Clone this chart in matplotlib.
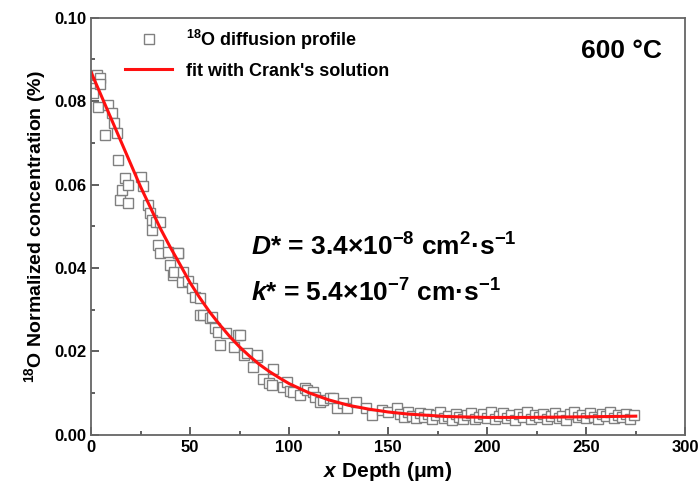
import matplotlib.pyplot as plt
from matplotlib.ticker import MultipleLocator

depth = [1, 1, 3, 3.5, 4.5, 4.5, 7, 8.6, 10.6, 11.6, 13, 13.6, 14.6, 15.6,
         17, 18.7, 18.7, 25, 26, 29, 30, 31, 31, 33, 34, 35, 35, 39, 40,
         41.5, 42, 44, 44, 46, 46.5, 49, 51, 52.5, 55, 55, 56.6, 60, 61,
         62.6, 64, 65, 68, 72, 74, 75, 77, 79, 82, 84, 84, 87, 90, 91.4,
         92, 97, 99, 100.5, 102, 105.5, 108, 109, 112, 113, 115.7, 117,
         120.7, 122, 124, 127, 129, 134, 139, 142, 147, 150, 154.5, 156,
         158, 160, 162, 164, 166, 168, 170, 172, 174, 176, 178, 180, 182,
         184, 186, 188, 190, 192, 194, 196, 198, 200, 202, 204, 206, 208,
         210, 212, 214, 216, 218, 220, 222, 224, 226, 228, 230, 232, 234,
         236, 238, 240, 242, 244, 246, 248, 250, 252, 254, 256, 258, 260,
         262, 264, 266, 268, 270, 272, 274]
conc = [0.0820, 0.0856, 0.0863, 0.0787, 0.0856, 0.0842, 0.0720, 0.0791,
        0.0772, 0.0748, 0.0724, 0.0660, 0.0564, 0.0588, 0.0616, 0.0600,
        0.0556, 0.0619, 0.0597, 0.0552, 0.0532, 0.0516, 0.0490, 0.0511,
        0.0456, 0.0511, 0.0436, 0.0439, 0.0408, 0.0384, 0.0390, 0.0436,
        0.0436, 0.0367, 0.0390, 0.0370, 0.0352, 0.0330, 0.0329, 0.0288,
        0.0288, 0.0280, 0.0283, 0.0257, 0.0247, 0.0216, 0.0245, 0.0211,
        0.0240, 0.0240, 0.0192, 0.0197, 0.0163, 0.0187, 0.0192, 0.0135,
        0.0125, 0.0120, 0.0158, 0.0115, 0.0127, 0.0106, 0.0103, 0.0096,
        0.0113, 0.0108, 0.0103, 0.0091, 0.0079, 0.0084, 0.0089, 0.0089,
        0.0065, 0.0077, 0.0065, 0.0079, 0.0065, 0.0048, 0.0060, 0.0055,
        0.0065, 0.0050, 0.0042, 0.0056, 0.0046, 0.0040, 0.0052, 0.0044,
        0.0050, 0.0038, 0.0047, 0.0055, 0.0041, 0.0045, 0.0036, 0.0050,
        0.0043, 0.0039, 0.0048, 0.0053, 0.0037, 0.0044, 0.0050, 0.0041,
        0.0056, 0.0038, 0.0046, 0.0052, 0.0040, 0.0048, 0.0035, 0.0050,
        0.0044, 0.0055, 0.0039, 0.0047, 0.0042, 0.0051, 0.0038, 0.0046,
        0.0053, 0.0041, 0.0045, 0.0036, 0.0049, 0.0055, 0.0042, 0.0047,
        0.0040, 0.0052, 0.0044, 0.0038, 0.0050, 0.0046, 0.0054, 0.0041,
        0.0048, 0.0043, 0.0051, 0.0039, 0.0047]

# fitted curve (Crank's solution)
fit_x = [0, 5, 10, 15, 20, 25, 30, 35, 40, 45, 50, 55, 60, 65, 70, 75, 80,
         85, 90, 95, 100, 110, 120, 130, 140, 150, 160, 170, 180, 190, 200,
         220, 240, 260, 275]
fit_y = [0.0870, 0.0815, 0.0760, 0.0705, 0.0650, 0.0595, 0.0545, 0.0495,
         0.0450, 0.0408, 0.0365, 0.0328, 0.0294, 0.0264, 0.0236, 0.0211,
         0.0189, 0.0169, 0.0152, 0.0137, 0.0123, 0.0101, 0.0084, 0.0071,
         0.0062, 0.0055, 0.0050, 0.0047, 0.0044, 0.0043, 0.0042, 0.0042,
         0.0043, 0.0044, 0.0045]

plt.rcParams['font.family'] = ['Liberation Sans', 'DejaVu Sans']
plt.rcParams['font.weight'] = 'bold'
plt.rcParams['mathtext.fontset'] = 'custom'
plt.rcParams['mathtext.rm'] = 'Liberation Sans:bold'
plt.rcParams['mathtext.it'] = 'Liberation Sans:bold:italic'
plt.rcParams['mathtext.bf'] = 'Liberation Sans:bold'

fig = plt.figure(figsize=(7, 4.92), dpi=100)
ax = fig.add_axes([0.13, 0.116, 0.849, 0.848])

ax.plot(depth, conc, linestyle='none', marker='s', markersize=6.5,
        markerfacecolor='white', markeredgecolor='#808080',
        markeredgewidth=1.0, label=r'$^{18}$O diffusion profile')
ax.plot(fit_x, fit_y, color='#ff1010', linewidth=2.2,
        label="fit with Crank's solution")

ax.set_xlim(0, 300)
ax.set_ylim(0, 0.10)
ax.xaxis.set_major_locator(MultipleLocator(50))
ax.xaxis.set_minor_locator(MultipleLocator(25))
ax.yaxis.set_major_locator(MultipleLocator(0.02))
ax.yaxis.set_minor_locator(MultipleLocator(0.01))
ax.yaxis.set_major_formatter(plt.FormatStrFormatter('%.2f'))
ax.tick_params(which='both', direction='in', top=False, right=False,
               color='#444444', labelsize=12, width=1.2)
ax.tick_params(which='major', length=6)
ax.tick_params(which='minor', length=3)
for s in ax.spines.values():
    s.set_color('#666666')
    s.set_linewidth(1.3)

ax.set_xlabel(r'$x$ Depth (μm)', fontsize=15, fontweight='bold')
ax.set_ylabel(r'$^{18}$O Normalized concentration (%)', fontsize=14,
              fontweight='bold')

leg = ax.legend(loc='upper left', bbox_to_anchor=(0.03, 1.015), frameon=False,
                fontsize=13, handlelength=2.6, labelspacing=0.6)

ax.text(0.96, 0.95, '600 °C', transform=ax.transAxes, ha='right', va='top',
        fontsize=19, fontweight='bold')
ax.text(0.27, 0.43, r'$D$* = 3.4×10$^{-8}$ cm$^2$·s$^{-1}$',
        transform=ax.transAxes, fontsize=19, fontweight='bold')
ax.text(0.27, 0.32, r'$k$* = 5.4×10$^{-7}$ cm·s$^{-1}$',
        transform=ax.transAxes, fontsize=19, fontweight='bold')

fig.savefig('out.png', dpi=100)
